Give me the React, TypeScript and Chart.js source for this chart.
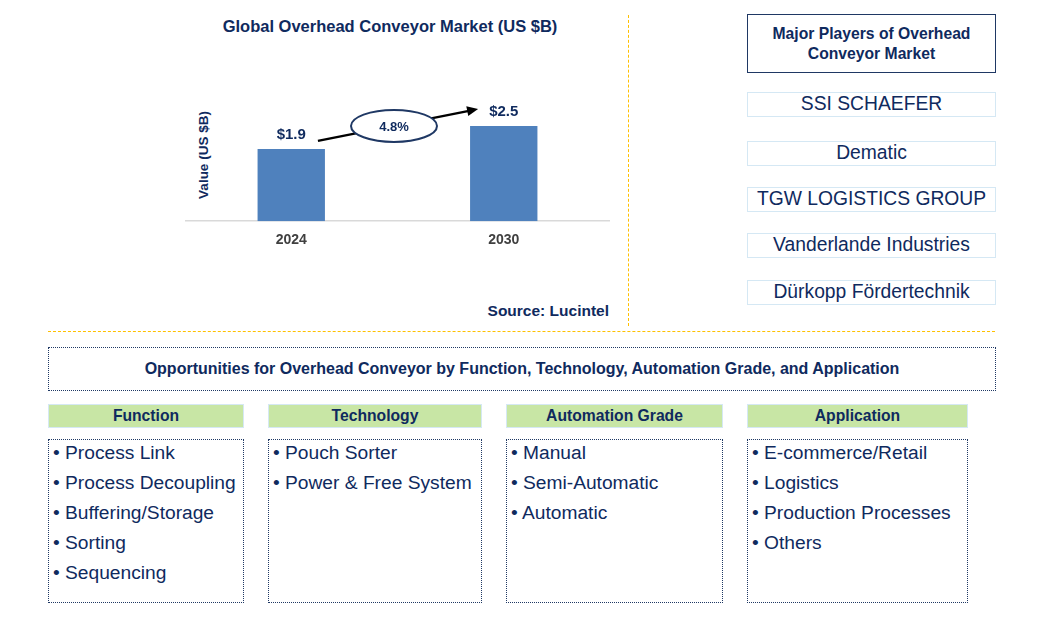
import React, { useEffect, useRef } from "react";
import { Chart, registerables } from "chart.js";

Chart.register(...registerables);

const years = ["2024", "2030"];
const marketValues = [1.9, 2.5];
const valueLabels = ["$1.9", "$2.5"];
const cagrLabel = "4.8%";
const chartTitle = "Global Overhead Conveyor Market (US $B)";
const yAxisTitle = "Value (US $B)";
const sourceText = "Source: Lucintel";

const playersTitle = ["Major Players of Overhead", "Conveyor Market"];
const players = [
  "SSI SCHAEFER",
  "Dematic",
  "TGW LOGISTICS GROUP",
  "Vanderlande Industries",
  "Dürkopp Fördertechnik",
];

const opportunitiesTitle =
  "Opportunities for Overhead Conveyor by Function, Technology, Automation Grade, and Application";
const segmentNames = ["Function", "Technology", "Automation Grade", "Application"];
const functionItems = ["Process Link", "Process Decoupling", "Buffering/Storage", "Sorting", "Sequencing"];
const technologyItems = ["Pouch Sorter", "Power & Free System"];
const automationItems = ["Manual", "Semi-Automatic", "Automatic"];
const applicationItems = ["E-commerce/Retail", "Logistics", "Production Processes", "Others"];
const segmentItems = [functionItems, technologyItems, automationItems, applicationItems];

const NAVY = "#0F2A5E";
const FONT = '"Liberation Sans", Arial, sans-serif';

const segCols = [
  { x: 48, w: 196 },
  { x: 268, w: 214 },
  { x: 506, w: 217 },
  { x: 747, w: 221 },
];
const playerTops = [92, 141, 187, 233, 280];

function BarChart() {
  const ref = useRef<HTMLCanvasElement | null>(null);
  useEffect(() => {
    if (!ref.current) return;
    const overlay = {
      id: "overlay",
      afterDatasetsDraw(chart: any) {
        const ctx = chart.ctx;
        const meta = chart.getDatasetMeta(0);
        const b0 = meta.data[0];
        const b1 = meta.data[1];
        ctx.save();
        ctx.font = `bold 15px ${FONT}`;
        ctx.fillStyle = NAVY;
        ctx.textAlign = "center";
        ctx.textBaseline = "middle";
        meta.data.forEach((b: any, i: number) => {
          ctx.fillText(valueLabels[i], b.x, b.y - 14);
        });
        // arrow
        const sx = b0.x + b0.width / 2 - 7;
        const sy = b0.y - 8;
        const ex = b1.x - b1.width / 2 + 8;
        const ey = b1.y - 17;
        ctx.strokeStyle = "#000";
        ctx.fillStyle = "#000";
        ctx.lineWidth = 2.5;
        ctx.beginPath();
        ctx.moveTo(sx, sy);
        const ang = Math.atan2(ey - sy, ex - sx);
        ctx.lineTo(ex - 8 * Math.cos(ang), ey - 8 * Math.sin(ang));
        ctx.stroke();
        ctx.beginPath();
        ctx.moveTo(ex, ey);
        ctx.lineTo(ex - 11 * Math.cos(ang) + 5 * Math.sin(ang), ey - 11 * Math.sin(ang) - 5 * Math.cos(ang));
        ctx.lineTo(ex - 11 * Math.cos(ang) - 5 * Math.sin(ang), ey - 11 * Math.sin(ang) + 5 * Math.cos(ang));
        ctx.closePath();
        ctx.fill();
        // ellipse
        const cx = (sx + ex) / 2 - 4;
        const cy = (sy + ey) / 2 + 1;
        ctx.beginPath();
        ctx.ellipse(cx, cy, 43, 16, 0, 0, Math.PI * 2);
        ctx.fillStyle = "#fff";
        ctx.fill();
        ctx.lineWidth = 2;
        ctx.strokeStyle = "#1F3864";
        ctx.stroke();
        ctx.fillStyle = NAVY;
        ctx.font = `bold 13px ${FONT}`;
        ctx.fillText(cagrLabel, cx, cy + 1);
        ctx.restore();
      },
    };
    const chart = new Chart(ref.current, {
      type: "bar",
      data: {
        labels: years,
        datasets: [
          {
            data: marketValues,
            backgroundColor: "#4F81BD",
            categoryPercentage: 1,
            barPercentage: 0.317,
          },
        ],
      },
      options: {
        animation: false,
        responsive: false,
        maintainAspectRatio: false,
        layout: { padding: { top: 3, left: 0, right: 0, bottom: 0 } },
        plugins: { legend: { display: false }, tooltip: { enabled: false }, title: { display: false } },
        scales: {
          x: {
            grid: { display: false },
            border: { display: true, color: "#D9D9D9", width: 1.5 },
            ticks: { color: "#404040", font: { family: FONT, size: 14, weight: "bold" }, padding: 3 },
          },
          y: {
            display: false,
            min: 0,
            max: 3.5,
          },
        },
      },
      plugins: [overlay],
    });
    return () => chart.destroy();
  }, []);
  return (
    <canvas
      ref={ref}
      width={425}
      height={167}
      style={{ position: "absolute", left: 185, top: 85, width: 425, height: 167 }}
    />
  );
}

export default function App() {
  useEffect(() => {
    document.body.style.margin = "0";
  }, []);
  const abs = (s: React.CSSProperties): React.CSSProperties => ({ position: "absolute", boxSizing: "border-box", ...s });
  return (
    <div style={{ position: "relative", width: 1047, height: 643, fontFamily: FONT, color: NAVY, background: "#fff", overflow: "hidden" }}>
      <div style={abs({ left: 180, top: 17, width: 420, textAlign: "center", fontWeight: "bold", fontSize: 16.5 })}>{chartTitle}</div>
      <div
        style={abs({
          left: 204 - 60,
          top: 155 - 8,
          width: 120,
          height: 16,
          lineHeight: "16px",
          textAlign: "center",
          fontWeight: "bold",
          fontSize: 13.5,
          transform: "rotate(-90deg)",
        })}
      >
        {yAxisTitle}
      </div>
      <BarChart />
      <div style={abs({ left: 400, top: 302, width: 209, textAlign: "right", fontWeight: "bold", fontSize: 15.5 })}>{sourceText}</div>

      <div style={abs({ left: 628, top: 15, height: 311, width: 0, borderLeft: "1px dashed #FFC000" })} />
      <div style={abs({ left: 48, top: 331, width: 947, height: 0, borderTop: "1px dashed #FFC000" })} />

      <div
        style={abs({
          left: 747,
          top: 14,
          width: 249,
          height: 59,
          border: "1.5px solid #1F3864",
          display: "flex",
          flexDirection: "column",
          alignItems: "center",
          justifyContent: "center",
          fontWeight: "bold",
          fontSize: 15.7,
          lineHeight: "20px",
        })}
      >
        {playersTitle.map((t) => (
          <div key={t}>{t}</div>
        ))}
      </div>
      {players.map((p, i) => (
        <div
          key={p}
          style={abs({
            left: 747,
            top: playerTops[i],
            width: 249,
            height: 25,
            border: "1.5px solid #D5E8F4",
            textAlign: "center",
            fontSize: 19.3,
            lineHeight: "22px",
            whiteSpace: "nowrap",
          })}
        >
          {p}
        </div>
      ))}

      <div
        style={abs({
          left: 48,
          top: 347,
          width: 948,
          height: 44,
          border: "1px dotted #1F3864",
          display: "flex",
          alignItems: "center",
          justifyContent: "center",
          fontWeight: "bold",
          fontSize: 16,
          whiteSpace: "nowrap",
        })}
      >
        {opportunitiesTitle}
      </div>

      {segmentNames.map((name, i) => (
        <React.Fragment key={name}>
          <div
            style={abs({
              left: segCols[i].x,
              top: 404,
              width: segCols[i].w,
              height: 24,
              background: "#C8E6A5",
              border: "1.5px solid #D5E8F4",
              textAlign: "center",
              fontWeight: "bold",
              fontSize: 15.7,
              lineHeight: "21px",
            })}
          >
            {name}
          </div>
          <div
            style={abs({
              left: segCols[i].x,
              top: 439,
              width: segCols[i].w,
              height: 164,
              border: "1px dotted #1F3864",
              paddingLeft: 4,
              fontSize: 19.2,
              lineHeight: "30px",
            })}
          >
            <div style={{ position: "relative", top: -2 }}>
              {segmentItems[i].map((it) => (
                <div key={it} style={{ whiteSpace: "nowrap" }}>
                  {"\u2022 " + it}
                </div>
              ))}
            </div>
          </div>
        </React.Fragment>
      ))}
    </div>
  );
}
